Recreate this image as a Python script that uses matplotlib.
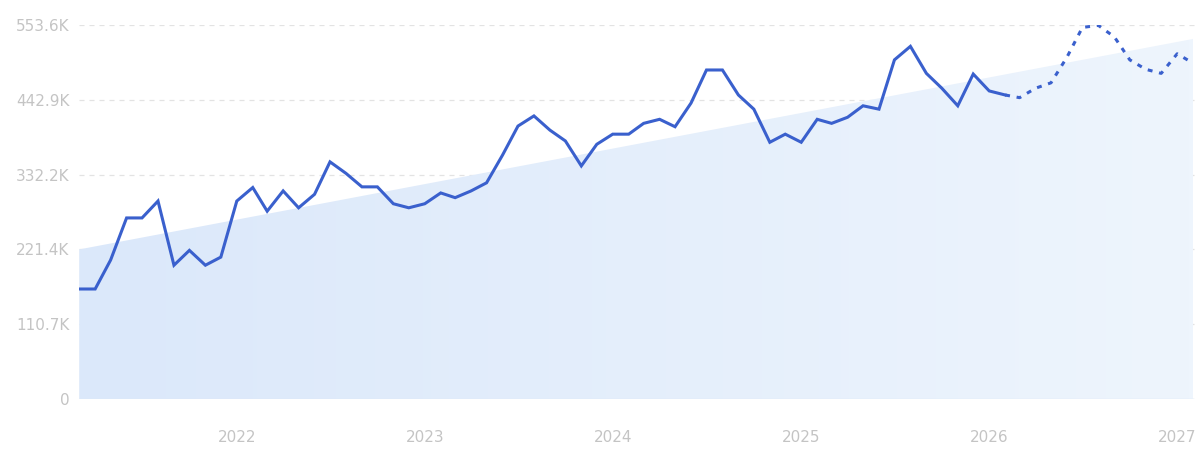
import numpy as np
import pandas as pd
import matplotlib
matplotlib.use("Agg")
import matplotlib.pyplot as plt
import matplotlib.dates as mdates
from matplotlib.colors import LinearSegmentedColormap

# monthly values, 2021-03 .. 2027-02 (thousands)
months = pd.date_range("2021-03-01", periods=72, freq="MS")
values = [162.8, 162.8, 205.7, 268, 268, 293, 198, 220, 198, 210, 293, 313,
          278, 308, 283, 303, 351, 334, 314, 314, 289, 283, 289, 305,
          298, 308, 320, 361, 404, 419, 398, 382, 345, 377, 392, 392,
          408, 414, 403, 438, 487, 487, 450, 429, 380, 392, 380, 414,
          408, 417, 434, 429, 502, 522, 482, 460, 434, 481, 456, 450,
          446, 460, 468, 506, 550, 553, 536, 502, 488, 482, 511, 497]
n_actual = 60  # solid part, rest is forecast
trend_start = 221.4
trend_end = 533.0
yticks = [0, 110.7, 221.4, 332.2, 442.9, 553.6]
ytick_labels = ["0", "110.7K", "221.4K", "332.2K", "442.9K", "553.6K"]
years = [2022, 2023, 2024, 2025, 2026, 2027]

fig = plt.figure(figsize=(12, 4.62), dpi=100)
ax = fig.add_axes([0.066, 0.1364, 0.930, 0.8095])

x0 = mdates.date2num(pd.Timestamp("2021-03-01"))
x1 = mdates.date2num(pd.Timestamp("2027-02-01"))
trend_x = np.array([x0, x1])
trend_y = np.array([trend_start, trend_end])

# gradient filled trend area
poly = ax.fill_between(trend_x, 0, trend_y, color="none", lw=0)
cmap = LinearSegmentedColormap.from_list("bg", ["#dbe8fa", "#eef5fd"])
grad = np.linspace(0, 1, 256).reshape(1, -1)
img = ax.imshow(grad, cmap=cmap, aspect="auto", extent=[x0, x1, 0, trend_end],
                zorder=1)
img.set_clip_path(poly.get_paths()[0], transform=ax.transData)
ax.plot(trend_x, [0, 0], color="#dde8f7", lw=1, zorder=2)

xs = mdates.date2num(months)
ax.plot(xs[:n_actual], values[:n_actual], color="#3a60cd", lw=2.2,
        solid_joinstyle="miter", zorder=4)
ax.plot(xs[n_actual - 1:], values[n_actual - 1:], color="#3a60cd", lw=2.2,
        dashes=(1.6, 2.2), zorder=4)

ax.set_xlim(x0, x1 + 4)
ax.set_ylim(0, 553.6)
ax.set_yticks(yticks)
ax.set_yticklabels(ytick_labels)
ax.set_xticks([mdates.date2num(pd.Timestamp(f"{y}-01-01")) for y in years])
ax.set_xticklabels([str(y) for y in years])
ax.yaxis.grid(True, color="#e3e3e3", lw=0.9, ls=(0, (4, 4)), zorder=0)
ax.set_axisbelow(True)
for s in ax.spines.values():
    s.set_visible(False)
ax.tick_params(axis="both", length=0, colors="#c4c4c4", labelsize=11)
ax.tick_params(axis="y", pad=7)
ax.tick_params(axis="x", pad=22)

fig.savefig("out.png", dpi=100)
